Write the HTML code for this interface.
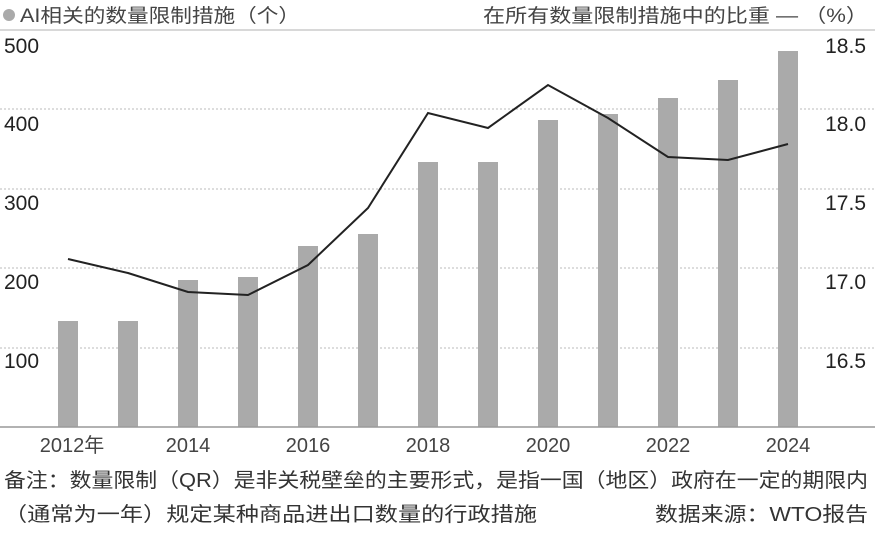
<!DOCTYPE html><html><head><meta charset="utf-8"><style>body{margin:0;background:#fff}svg text{font-family:"Liberation Sans","Noto Sans CJK SC",sans-serif}</style></head><body>
<svg width="875" height="530" viewBox="0 0 875 530" xmlns="http://www.w3.org/2000/svg">
<rect width="875" height="530" fill="#fff"/>
<circle cx="9" cy="15" r="6" fill="#aaa"/>
<text x="20" y="22" font-size="19" fill="#444" textLength="280" lengthAdjust="spacingAndGlyphs">AI相关的数量限制措施（个）</text>
<text x="483" y="22" font-size="19" fill="#444" textLength="385" lengthAdjust="spacingAndGlyphs">在所有数量限制措施中的比重 — （%）</text>
<line x1="0" y1="30" x2="875" y2="30" stroke="#ccc" stroke-width="1.5"/>
<g stroke="#bbb" stroke-dasharray="2,2" stroke-width="1">
<line x1="0" y1="109" x2="875" y2="109"/><line x1="0" y1="189" x2="875" y2="189"/><line x1="0" y1="268" x2="875" y2="268"/><line x1="0" y1="348" x2="875" y2="348"/></g>
<g fill="#aaa">
<rect x="58" y="321" width="20" height="106"/><rect x="118" y="321" width="20" height="106"/><rect x="178" y="280" width="20" height="147"/><rect x="238" y="277" width="20" height="150"/><rect x="298" y="246" width="20" height="181"/><rect x="358" y="234" width="20" height="193"/><rect x="418" y="162" width="20" height="265"/><rect x="478" y="162" width="20" height="265"/><rect x="538" y="120" width="20" height="307"/><rect x="598" y="114" width="20" height="313"/><rect x="658" y="98" width="20" height="329"/><rect x="718" y="80" width="20" height="347"/><rect x="778" y="51" width="20" height="376"/></g>
<line x1="0" y1="427" x2="875" y2="427" stroke="#999" stroke-width="1.5"/>
<polyline fill="none" stroke="#222" stroke-width="2" points="68,259 128,273 188,292 248,295 308,265 368,208 428,113 488,128 548,85 608,118 668,157 728,160 788,144"/>
<g font-size="21" fill="#222">
<text x="4" y="53">500</text><text x="4" y="131">400</text><text x="4" y="210">300</text><text x="4" y="289">200</text><text x="4" y="368">100</text></g>
<g font-size="21" fill="#222" text-anchor="end">
<text x="866" y="53">18.5</text><text x="866" y="131">18.0</text><text x="866" y="210">17.5</text><text x="866" y="289">17.0</text><text x="866" y="368">16.5</text></g>
<g font-size="20" fill="#444" text-anchor="middle">
<text x="72" y="452">2012年</text><text x="188" y="452">2014</text><text x="308" y="452">2016</text><text x="428" y="452">2018</text><text x="548" y="452">2020</text><text x="668" y="452">2022</text><text x="788" y="452">2024</text></g>
<text x="4" y="487" font-size="20" fill="#333" textLength="864" lengthAdjust="spacingAndGlyphs">备注：数量限制（QR）是非关税壁垒的主要形式，是指一国（地区）政府在一定的期限内</text>
<text x="4" y="521" font-size="20" fill="#333" textLength="533" lengthAdjust="spacingAndGlyphs">（通常为一年）规定某种商品进出口数量的行政措施</text>
<text x="655" y="521" font-size="20" fill="#333" textLength="213" lengthAdjust="spacingAndGlyphs">数据来源：WTO报告</text>
</svg></body></html>
